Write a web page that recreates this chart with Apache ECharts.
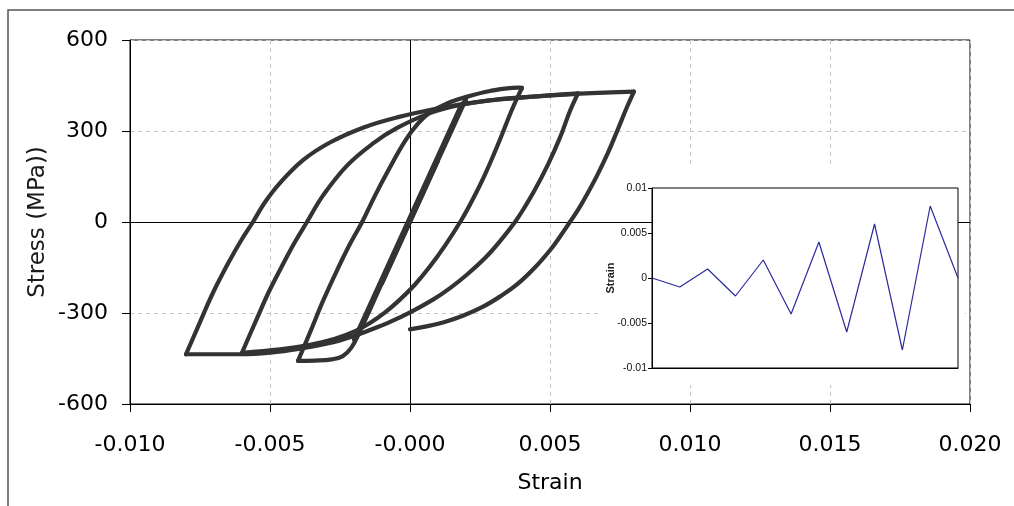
<!DOCTYPE html>
<html>
<head>
<meta charset="utf-8">
<script src="https://cdn.jsdelivr.net/npm/echarts@6/dist/echarts.min.js"></script>
<style>
html, body { margin: 0; padding: 0; background: #fff; }
#chart { width: 1014px; height: 506px; }
</style>
</head>
<body>
<div id="chart"></div>
<script>
// Tick labels
const strainTickLabels = ['-0.010', '-0.005', '-0.000', '0.005', '0.010', '0.015', '0.020'];
const stressTickLabels = ['-600', '-300', '0', '300', '600'];
const historyTickLabels = ['-0.01', '-0.005', '0', '0.005', '0.01'];

// Applied strain history, one value per reversal (inset)
const historyStrain = [0, -0.001, 0.001, -0.002, 0.002, -0.004, 0.004, -0.006, 0.006, -0.008, 0.008, 0];

// Stress-strain response, [strain, stress MPa], one array per loading branch
const elasticCycles = [[0, 0], [-0.001, -202], [0.001, 202], [-0.002, -388], [0.0018, 380], [0.002, 405]];
const downTo4 = [[0.002, 405], [0.001, 203], [0, 1], [-0.001, -201], [-0.0018, -363], [-0.0021, -415],
  [-0.0024, -442], [-0.0028, -453], [-0.0034, -457], [-0.004, -458]];
const upTo4 = [[-0.004, -458], [-0.00357, -364], [-0.00311, -261], [-0.00261, -160], [-0.00214, -72],
  [-0.00171, 0], [-0.00125, 87], [-0.00071, 181], [-0.00018, 267], [0.00029, 325], [0.00071, 361],
  [0.00125, 388], [0.00196, 411], [0.00286, 432], [0.00386, 443], [0.004, 442]];
const downTo6 = [[0.004, 442], [0.00364, 370], [0.00321, 271], [0.00268, 157], [0.00221, 69],
  [0.00182, 4], [0.00125, -78], [0.00071, -147], [0.00018, -206], [-0.00036, -256],
  [-0.00089, -298], [-0.00143, -333], [-0.00196, -360], [-0.00268, -385], [-0.00357, -405],
  [-0.00464, -420], [-0.006, -431]];
const upTo6 = [[-0.006, -431], [-0.0055, -325], [-0.00504, -230], [-0.00457, -145], [-0.00411, -66],
  [-0.00368, 0], [-0.00311, 87], [-0.00225, 186], [-0.00132, 259], [-0.00046, 310], [0.00071, 359],
  [0.00179, 386], [0.00321, 405], [0.00464, 415], [0.006, 424]];
const downTo8 = [[0.006, 424], [0.00571, 365], [0.00536, 279], [0.00493, 190], [0.00446, 106],
  [0.00407, 45], [0.00375, 0], [0.00321, -64], [0.00268, -119], [0.00204, -173], [0.00143, -218],
  [0.00082, -256], [0.00004, -296], [-0.00071, -329], [-0.00143, -356], [-0.00214, -380],
  [-0.00286, -399], [-0.00393, -418], [-0.005, -431], [-0.00607, -436], [-0.008, -436]];
const upTo8 = [[-0.008, -436], [-0.0075, -330], [-0.00704, -234], [-0.00643, -125], [-0.006, -56],
  [-0.00561, 0], [-0.00518, 65], [-0.00464, 129], [-0.00382, 204], [-0.00286, 262],
  [-0.00168, 311], [-0.00046, 345], [0.00107, 376], [0.0025, 397], [0.00429, 413],
  [0.00607, 423], [0.008, 430]];
const downToZero = [[0.008, 430], [0.00775, 379], [0.00739, 298], [0.00704, 222], [0.00668, 153],
  [0.00632, 91], [0.006, 40], [0.00571, 0], [0.00536, -48], [0.005, -93], [0.00446, -150],
  [0.00382, -206], [0.00321, -246], [0.00261, -279], [0.00189, -309], [0.00118, -331],
  [0.00054, -345], [0, -354]];

const branches = [elasticCycles, downTo4, upTo4, downTo6, upTo6, downTo8, upTo8, downToZero];

const mainFont = 'DejaVu Sans';
const insetFont = 'Liberation Sans';

const pick = (labels, min, step) => (v) => labels[Math.round((v - min) / step)];

const loopSeries = branches.map((b, i) => ({
  type: 'line',
  xAxisIndex: 0,
  yAxisIndex: 0,
  data: b,
  symbol: 'none',
  smooth: i === 0 ? false : 0.4,
  lineStyle: { color: '#333333', width: 4.2, cap: 'round', join: 'round' },
  z: 5,
  silent: true
}));

const chart = echarts.init(document.getElementById('chart'));
chart.setOption({
  animation: false,
  backgroundColor: '#ffffff',
  graphic: [
    { type: 'rect', shape: { x: 8, y: 10, width: 1100, height: 600 },
      style: { fill: 'none', stroke: '#555', lineWidth: 1.5 }, z: 1, silent: true },
    // white panel behind the inset, hides the main grid lines
    { type: 'rect', shape: { x: 600, y: 168, width: 365, height: 217 },
      style: { fill: '#ffffff' }, z: 4, silent: true }
  ],
  grid: [
    { left: 130, right: 44, top: 40, bottom: 102, show: true, borderColor: '#000', borderWidth: 1,
      backgroundColor: 'transparent' },
    { left: 652, top: 188, width: 306, height: 180, show: true, borderColor: '#000', borderWidth: 1,
      backgroundColor: '#ffffff', z: 20 }
  ],
  xAxis: [
    {
      type: 'value', gridIndex: 0, min: -0.01, max: 0.02, interval: 0.005,
      axisLine: { onZero: false, lineStyle: { color: '#000', width: 1 } },
      axisTick: { show: true, length: 8, lineStyle: { color: '#000' } },
      axisLabel: { fontFamily: mainFont, fontSize: 22, color: '#000', margin: 30,
        formatter: pick(strainTickLabels, -0.01, 0.005) },
      splitLine: { show: true, lineStyle: { color: '#c4c4c4', type: [4, 4], width: 1 } },
      name: 'Strain', nameLocation: 'middle', nameGap: 68,
      nameTextStyle: { fontFamily: mainFont, fontSize: 22, color: '#000' }
    },
    {
      type: 'value', gridIndex: 1, min: 0, max: 11,
      axisLine: { onZero: false, lineStyle: { color: '#000', width: 1 } },
      axisTick: { show: false }, axisLabel: { show: false }, splitLine: { show: false },
      z: 21
    }
  ],
  yAxis: [
    {
      type: 'value', gridIndex: 0, min: -600, max: 600, interval: 300,
      axisLine: { onZero: false, lineStyle: { color: '#000', width: 1 } },
      axisTick: { show: true, length: 8, lineStyle: { color: '#000' } },
      axisLabel: { fontFamily: mainFont, fontSize: 22, color: '#000', margin: 22,
        formatter: pick(stressTickLabels, -600, 300) },
      splitLine: { show: true, lineStyle: { color: '#c4c4c4', type: [4, 4], width: 1 } },
      name: 'Stress (MPa))', nameLocation: 'middle', nameGap: 80, nameRotate: 90,
      nameMoveOverlap: false,
      nameTextStyle: { fontFamily: mainFont, fontSize: 23, color: '#1a1a1a' }
    },
    {
      type: 'value', gridIndex: 1, min: -0.01, max: 0.01, interval: 0.005,
      axisLine: { show: true, onZero: false, lineStyle: { color: '#000', width: 1 } },
      axisTick: { show: true, length: 4, lineStyle: { color: '#000' } },
      axisLabel: { fontFamily: insetFont, fontSize: 10.5, color: '#111', margin: 5,
        formatter: pick(historyTickLabels, -0.01, 0.005) },
      splitLine: { show: false },
      name: 'Strain', nameLocation: 'middle', nameGap: 36, nameRotate: 90,
      nameMoveOverlap: false,
      nameTextStyle: { fontFamily: insetFont, fontSize: 11, fontWeight: 'bold', color: '#222' },
      z: 21
    }
  ],
  series: [
    {
      type: 'line', xAxisIndex: 0, yAxisIndex: 0, data: [[0, 0]], symbol: 'none',
      lineStyle: { opacity: 0 }, z: 3, silent: true,
      markLine: {
        silent: true, symbol: 'none', label: { show: false }, animation: false,
        lineStyle: { color: '#000', width: 1, type: 'solid' },
        data: [{ xAxis: 0 }, { yAxis: 0 }]
      }
    },
    ...loopSeries,
    {
      type: 'line', xAxisIndex: 1, yAxisIndex: 1,
      data: historyStrain.map((v, i) => [i, v]),
      symbol: 'none',
      lineStyle: { color: '#2b2b9e', width: 1.2 },
      z: 22, silent: true,
      markLine: {
        silent: true, symbol: 'none', label: { show: false }, animation: false,
        lineStyle: { color: '#000', width: 1.5, type: 'solid' },
        data: [{ yAxis: 0 }]
      }
    }
  ]
});
</script>
</body>
</html>
